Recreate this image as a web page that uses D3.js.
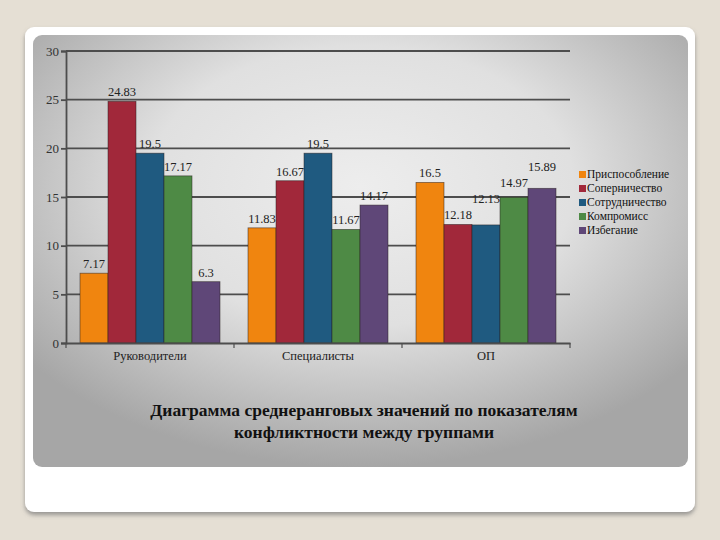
<!DOCTYPE html>
<html><head><meta charset="utf-8">
<script src="https://cdn.jsdelivr.net/npm/d3@7"></script>
<style>html,body{margin:0;padding:0;background:#e5dfd4;}svg{display:block;} text{font-family:'Liberation Serif','DejaVu Serif',serif;}</style>
</head><body>
<script>
const categories = ["Руководители", "Специалисты", "ОП"];
const seriesNames = ["Приспособление", "Соперничество", "Сотрудничество", "Компромисс", "Избегание"];
const seriesColors = ["#f0850f", "#a1283a", "#1f5a80", "#4e8a45", "#5f4778"];
const values = [
  [7.17, 11.83, 16.5],
  [24.83, 16.67, 12.18],
  [19.5, 19.5, 12.13],
  [17.17, 11.67, 14.97],
  [6.3, 14.17, 15.89]
];
const labels = [
  ["7.17", "11.83", "16.5"],
  ["24.83", "16.67", "12.18"],
  ["19.5", "19.5", "12.13"],
  ["17.17", "11.67", "14.97"],
  ["6.3", "14.17", "15.89"]
];
const yTicks = [0, 5, 10, 15, 20, 25, 30];
const titleLines = ["Диаграмма среднеранговых значений по показателям", "конфликтности между группами"];

const W = 720, H = 540;
const FONT = "'Liberation Serif', serif";
const svg = d3.select("body").append("svg").attr("width", W).attr("height", H);
const defs = svg.append("defs");
const rg = defs.append("radialGradient").attr("id", "bg").attr("cx", "50%").attr("cy", "35%").attr("r", "65%");
rg.append("stop").attr("offset", "0%").attr("stop-color", "#ededed");
rg.append("stop").attr("offset", "50%").attr("stop-color", "#e0e0e0");
rg.append("stop").attr("offset", "100%").attr("stop-color", "#a6a6a6");
const sh = defs.append("filter").attr("id", "sh").attr("x", "-5%").attr("y", "-5%").attr("width", "110%").attr("height", "115%");
sh.append("feDropShadow").attr("dx", 0).attr("dy", 3).attr("stdDeviation", 2).attr("flood-color", "#777").attr("flood-opacity", 0.7);

svg.append("rect").attr("width", W).attr("height", H).attr("fill", "#e5dfd4");
svg.append("rect").attr("x", 25).attr("y", 27).attr("width", 670).attr("height", 485).attr("rx", 9).attr("fill", "#ffffff").attr("filter", "url(#sh)");
svg.append("rect").attr("x", 33).attr("y", 35).attr("width", 655).attr("height", 432).attr("rx", 9).attr("fill", "url(#bg)");

const x0 = d3.scaleBand().domain(categories).range([66, 570]).paddingInner(0).paddingOuter(0);
const x1 = d3.scaleBand().domain(d3.range(seriesNames.length)).range([14, x0.bandwidth() - 14]).padding(0);
const y = d3.scaleLinear().domain([0, 30]).range([343, 51]);

const g = svg.append("g");
g.selectAll("line.grid").data(yTicks.filter(d => d > 0)).join("line")
  .attr("x1", 66).attr("x2", 570).attr("y1", d => y(d)).attr("y2", d => y(d))
  .attr("stroke", "#4d4d4d").attr("stroke-width", 1.8);

const groups = g.selectAll("g.cat").data(categories).join("g").attr("transform", c => `translate(${x0(c)},0)`);
groups.each(function(c, ci) {
  const sel = d3.select(this);
  let prevY = null;
  seriesNames.forEach((s, si) => {
    const v = values[si][ci];
    sel.append("rect").attr("x", x1(si)).attr("width", x1.bandwidth())
      .attr("y", y(v)).attr("height", y(0) - y(v))
      .attr("fill", seriesColors[si]).attr("stroke", "rgba(40,30,30,0.6)").attr("stroke-width", 0.8);
    let ly = y(v) - 5;
    // avoid overlapping the neighbouring label
    if (prevY !== null && Math.abs(ly - prevY) < 13) ly = prevY - 16;
    prevY = ly;
    sel.append("text").attr("x", x1(si) + x1.bandwidth() / 2).attr("y", ly)
      .attr("text-anchor", "middle").style("font-family", FONT).style("font-size", "12.5px")
      .attr("fill", "#222").text(labels[si][ci]);
  });
});

const yAxis = d3.axisLeft(y).tickValues(yTicks).tickSize(5).tickFormat(d3.format("d"));
const ya = svg.append("g").attr("transform", "translate(66,0)").call(yAxis);
ya.select(".domain").attr("stroke", "#4d4d4d").attr("stroke-width", 1.8);
ya.selectAll(".tick line").attr("stroke", "#4d4d4d").attr("stroke-width", 1.8);
ya.selectAll("text").style("font-family", FONT).style("font-size", "13px").attr("fill", "#333").attr("x", -7);

const xAxis = d3.axisBottom(x0).tickSize(0).tickSizeOuter(0);
const xa = svg.append("g").attr("transform", "translate(0,343)").call(xAxis);
xa.select(".domain").attr("stroke", "#4d4d4d").attr("stroke-width", 1.8);
xa.selectAll("text").style("font-family", FONT).style("font-size", "12.5px").attr("fill", "#222").attr("dy", "1.1em");
xa.selectAll("line.sep").data([66, 234, 402, 570]).join("line").attr("class", "sep")
  .attr("x1", d => d).attr("x2", d => d).attr("y1", 0).attr("y2", 5).attr("stroke", "#4d4d4d").attr("stroke-width", 1.2);

const lg = svg.append("g").attr("transform", "translate(579,175)");
seriesNames.forEach((s, i) => {
  lg.append("rect").attr("x", 0).attr("y", i * 14 - 4).attr("width", 7).attr("height", 7).attr("fill", seriesColors[i]);
  lg.append("text").attr("x", 8).attr("y", i * 14 + 3).style("font-family", FONT).style("font-size", "11.5px")
    .attr("fill", "#111").text(s);
});

titleLines.forEach((t, i) => {
  svg.append("text").attr("x", 364).attr("y", 416 + i * 22).attr("text-anchor", "middle")
    .style("font-family", FONT).style("font-weight", "bold").style("font-size", "17.5px")
    .attr("fill", "#111").text(t);
});
</script>
</body></html>
